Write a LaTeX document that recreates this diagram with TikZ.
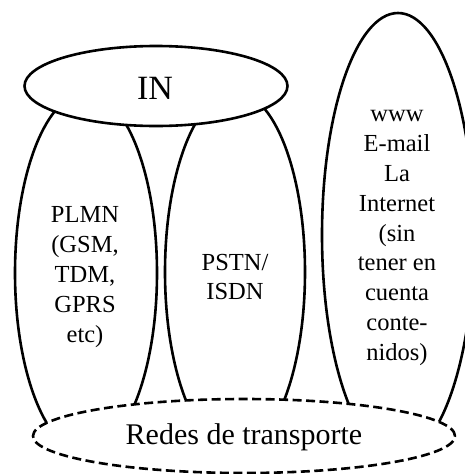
\documentclass[tikz,border=0pt]{standalone}
\usepackage{fontspec}
\setmainfont{Liberation Serif}
\usetikzlibrary{shapes.geometric}
\begin{document}
\begin{tikzpicture}[x=1pt,y=-1pt,
  net/.style={ellipse,draw,line width=2.6pt,inner sep=0pt},
  over/.style={ellipse,draw,fill=white,line width=2.6pt,inner sep=0pt},
  lbl/.style={align=center,font=\fontsize{24.5}{29.8}\selectfont,inner sep=0pt}]
\useasboundingbox (0,0) rectangle (465,474);
\clip (0,0) rectangle (465,474);
\node[net,minimum width=142pt,minimum height=360pt] (plmn) at (86,273) {};
\node[net,minimum width=140pt,minimum height=360pt] (pstn) at (235,272) {};
\node[net,minimum width=152pt,minimum height=444pt] (inet) at (398,235) {};
\node[over,minimum width=263pt,minimum height=80pt] (in) at (156,86) {};
\node[font=\fontsize{34}{40}\selectfont,inner sep=0pt] (intext) at (155,88) {IN};
\node[over,dash pattern=on 9pt off 4.5pt,minimum width=422pt,minimum height=74pt] (redes) at (244,436) {};
\node[font=\fontsize{30}{36}\selectfont,inner sep=0pt] (redestext) at (244,437) {Redes de transporte};
\node[lbl] (plmntext) at (85,277) {PLMN\\(GSM,\\TDM,\\GPRS\\etc)};
\node[lbl] (pstntext) at (235,277) {PSTN/\\ISDN};
\node[lbl] (inettext) at (397,238) {www\\E-mail\\La\\Internet\\(sin\\tener en\\cuenta\\conte-\\nidos)};
\end{tikzpicture}
\end{document}
